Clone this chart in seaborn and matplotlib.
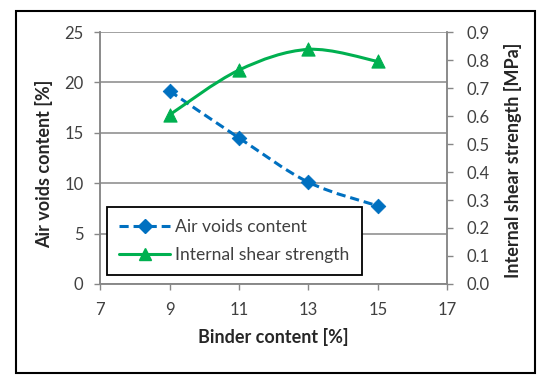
import numpy as np
import seaborn as sns
import matplotlib
matplotlib.use("Agg")
import matplotlib.pyplot as plt
from matplotlib.path import Path
from matplotlib.patches import PathPatch, Rectangle
from matplotlib.lines import Line2D

# 数据
binder = [9, 11, 13, 15]
air_voids = [19.15, 14.5, 10.1, 7.75]
shear = [0.604, 0.764, 0.838, 0.795]
x_ticks = [7, 9, 11, 13, 15, 17]

blue = "#0070C0"
green = "#00B050"
grid_c = "#878787"


def smooth_path(x, y):
    """Excel 式平滑曲线（三次贝塞尔）"""
    pts = np.column_stack([x, y]).astype(float)
    verts = [pts[0]]
    codes = [Path.MOVETO]
    n = len(pts)
    for i in range(n - 1):
        p0 = pts[max(i - 1, 0)]
        p1 = pts[i]
        p2 = pts[i + 1]
        p3 = pts[min(i + 2, n - 1)]
        c1 = p1 + (p2 - p0) / 6
        c2 = p2 - (p3 - p1) / 6
        verts += [c1, c2, p2]
        codes += [Path.CURVE4] * 3
    return Path(verts, codes)


sns.set_theme(style="white")
plt.rcParams['font.family'] = ['Lato', 'DejaVu Sans']

fig = plt.figure(figsize=(5.5, 3.83), dpi=100)
ax = fig.add_axes([0.182, 0.2585, 0.631, 0.6579])
ax2 = ax.twinx()

# 空隙率
ax.add_patch(PathPatch(smooth_path(binder, air_voids), fill=False, ec=blue,
                       lw=2.2, ls=(0, (3, 1.6)), zorder=3))
sns.scatterplot(x=binder, y=air_voids, marker="D", s=55, color=blue,
                edgecolor=blue, ax=ax, zorder=4)

# 剪切强度
ax2.add_patch(PathPatch(smooth_path(binder, shear), fill=False, ec=green,
                        lw=2.2, zorder=3))
sns.scatterplot(x=binder, y=shear, marker="^", s=90, color=green,
                edgecolor=green, ax=ax2, zorder=4)

ax.set_xlim(7, 17)
ax.set_ylim(0, 25)
ax2.set_ylim(0, 0.9)
ax.set_xticks(x_ticks)
ax.set_yticks(np.arange(0, 26, 5))
ax2.set_yticks(np.arange(0, 0.91, 0.1))
ax2.set_yticklabels([f"{v:.1f}" for v in np.arange(0, 0.91, 0.1)])

ax.yaxis.grid(True, color=grid_c, lw=1.1)
ax.set_axisbelow(True)
for a in (ax, ax2):
    for s in a.spines.values():
        s.set_color(grid_c)
        s.set_linewidth(1.1)
    a.spines['top'].set_visible(False)
    a.tick_params(colors=grid_c, labelcolor="#404040", labelsize=12,
                  length=4, width=1.0, direction="out")
ax.tick_params(left=True, bottom=True, pad=8)
ax.tick_params(axis="x", pad=9)
ax2.tick_params(right=True, pad=10)

ax.set_xlabel("Binder content [%]", fontsize=13, fontweight="bold", labelpad=7)
ax.set_ylabel("Air voids content [%]", fontsize=13, fontweight="bold")
ax2.set_ylabel("Internal shear strength [MPa]", fontsize=13, fontweight="bold")
ax.yaxis.set_label_coords(-0.135, 0.476)
ax2.yaxis.set_label_coords(1.164, 0.49)

handles = [
    Line2D([], [], color=blue, lw=2.2, ls=(0, (3, 1.6)), marker="D",
           markersize=7),
    Line2D([], [], color=green, lw=2.2, marker="^", markersize=9),
]
leg = ax.legend(handles, ["Air voids content", "Internal shear strength"],
                loc="lower left", bbox_to_anchor=(0.02, 0.036),
                borderaxespad=0, handlelength=2.9, handletextpad=0.3,
                labelspacing=0.65, borderpad=0.7, fontsize=12.6,
                fancybox=False, framealpha=1)
leg.get_frame().set_edgecolor("black")
leg.get_frame().set_linewidth(1.3)
for t in leg.get_texts():
    t.set_color("#404040")

# 外框
fig.patches.append(Rectangle((0.029, 0.026), 0.944, 0.945,
                             transform=fig.transFigure, fill=False,
                             ec="black", lw=1.5))

fig.savefig("out.png", dpi=100)
